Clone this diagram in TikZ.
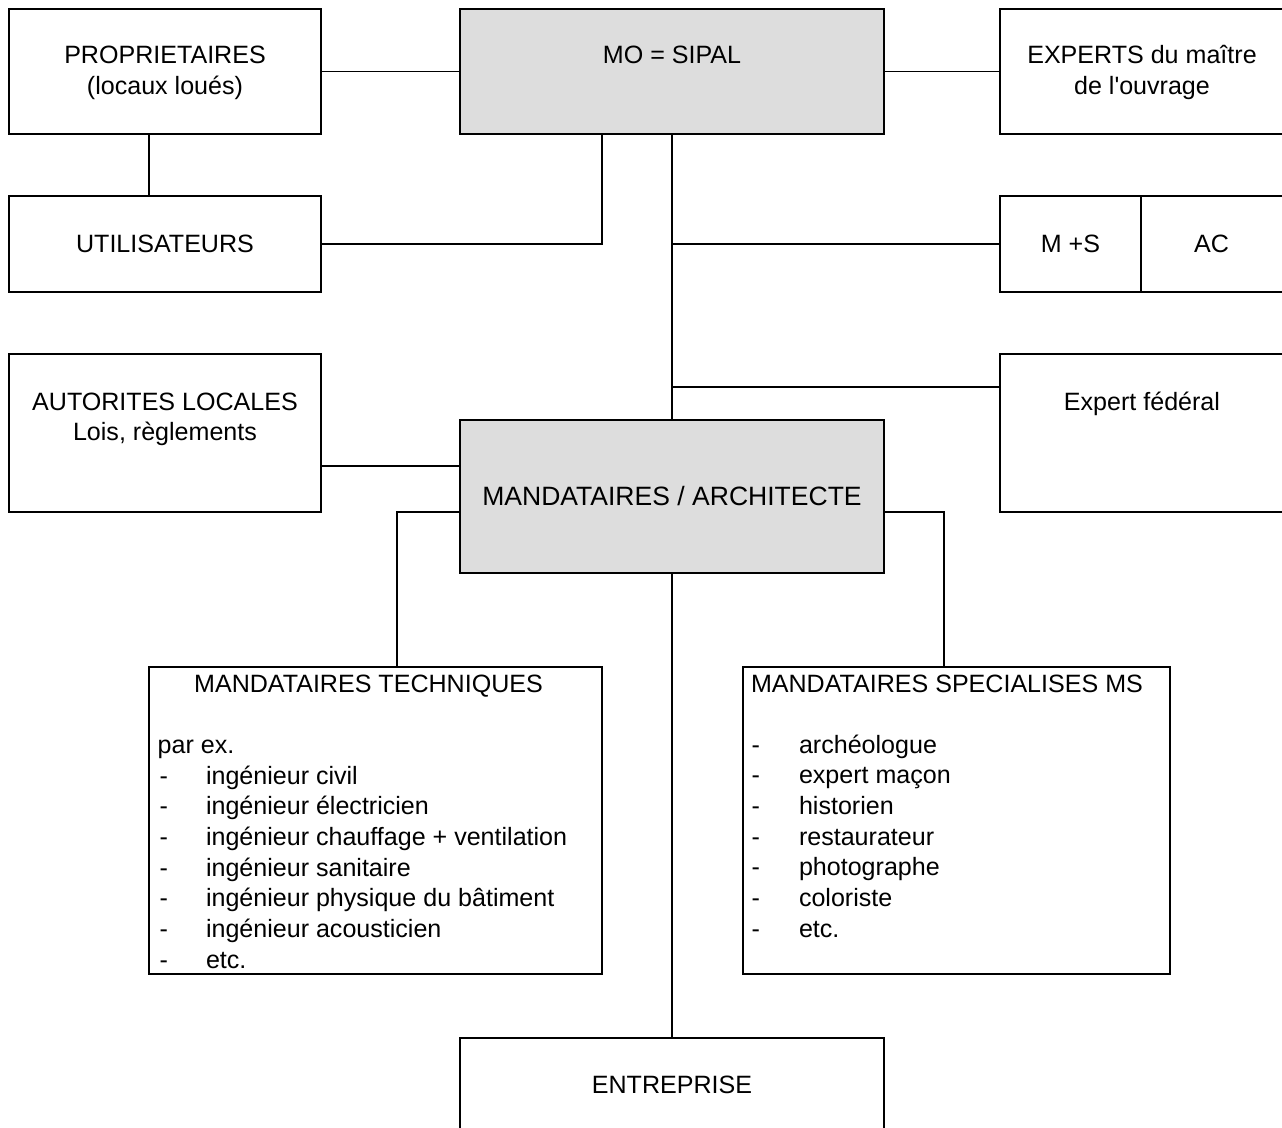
\documentclass[tikz,border=0pt]{standalone}
\usepackage{fontspec}
\setmainfont{Liberation Sans}
\usetikzlibrary{fit,calc}
\definecolor{boxgray}{RGB}{221,221,221}
\begin{document}
\begin{tikzpicture}[x=0.75pt,y=-0.75pt,
  every node/.style={inner sep=0pt, outer sep=0pt},
  box/.style={draw, line width=1.6pt, rectangle, fit={#1}},
  txt/.style={font=\fontsize{18.8pt}{23pt}\selectfont, anchor=base},
  bigtxt/.style={font=\fontsize{19.9pt}{24pt}\selectfont, anchor=base},
  ltxt/.style={txt, anchor=base west},
  link/.style={draw, line width=1.3pt}]
\useasboundingbox (0,0) rectangle (1282,1128);
\clip (0,0) rectangle (1282,1128);

% boxes
\node[box={(9,9) (321,134)}] (prop) {};
\node[box={(460,9) (884,134)}, fill=boxgray] (mo) {};
\node[box={(1000,9) (1290,134)}] (exp) {};
\node[box={(9,196) (321,292)}] (util) {};
\node[box={(1000,196) (1141,292)}] (msL) {};
\node[box={(1141,196) (1290,292)}] (msR) {};
\node[box={(9,354) (321,512)}] (aut) {};
\node[box={(1000,354) (1290,512)}] (fed) {};
\node[box={(460,420) (884,573)}, fill=boxgray] (arch) {};
\node[box={(149,667) (602,974)}] (tech) {};
\node[box={(743,667) (1170,974)}] (spec) {};
\node[box={(460,1038) (884,1140)}] (ent) {};

% texts
\node[txt] (propT1) at (165,63.7) {PROPRIETAIRES};
\node[txt] (propT2) at (165,94.3) {(locaux loués)};
\node[txt] (moT) at (672,63.7) {MO = SIPAL};
\node[txt] (expT1) at (1142,63.7) {EXPERTS du maître};
\node[txt] (expT2) at (1142,94.3) {de l\textquotesingle ouvrage};
\node[txt] (utilT) at (165,252) {UTILISATEURS};
\node[txt] (msLT) at (1070.5,252) {M +S};
\node[txt] (msRT) at (1211.5,252) {AC};
\node[txt] (autT1) at (165,410.7) {AUTORITES LOCALES};
\node[txt] (autT2) at (165,440.7) {Lois, règlements};
\node[txt] (fedT) at (1142,410.7) {Expert fédéral};
\node[bigtxt] (archT) at (672,505.7) {MANDATAIRES / ARCHITECTE};
\node[txt] (entT) at (672,1093.3) {ENTREPRISE};

\node[txt] (techT) at (368.5,692.3) {MANDATAIRES TECHNIQUES};
\node[ltxt] (techP) at (157.7,753.3) {par ex.};
\foreach [count=\i] \t in {ingénieur civil, ingénieur électricien,
  ingénieur chauffage + ventilation, ingénieur sanitaire,
  ingénieur physique du bâtiment, ingénieur acousticien, etc.} {
  \node[ltxt] (techD\i) at (159.7,{784.3+(\i-1)*30.67}) {-};
  \node[ltxt] (techI\i) at (206,{784.3+(\i-1)*30.67}) {\t};
}

\node[ltxt] (specT) at (751,692.3) {MANDATAIRES SPECIALISES MS};
\foreach [count=\i] \t in {archéologue, expert maçon, historien,
  restaurateur, photographe, coloriste, etc.} {
  \node[ltxt] (specD\i) at (751.5,{753.3+(\i-1)*30.67}) {-};
  \node[ltxt] (specI\i) at (799,{753.3+(\i-1)*30.67}) {\t};
}

% connectors
\coordinate (xP) at (149,0);
\coordinate (xU) at (602,0);
\coordinate (yF) at (0,387);
\coordinate (yA) at (0,466);
\coordinate (yM) at (0,512);
\coordinate (xT) at (397,0);
\coordinate (xS) at (944,0);
\draw[link] (prop.east) -- (mo.west);
\draw[link] (mo.east) -- (exp.west);
\draw[link] (prop.south -| xP) -- (util.north -| xP);
\draw[link] (util.east) -| (mo.south -| xU);
\draw[link] (mo.south) -- (arch.north);
\draw[link] (msL.west -| mo.south) -- (msL.west);
\draw[link] (yF -| mo.south) -- (yF -| fed.west);
\draw[link] (yA -| aut.east) -- (yA -| arch.west);
\draw[link] (yM -| arch.west) -| (tech.north -| xT);
\draw[link] (yM -| arch.east) -| (spec.north -| xS);
\draw[link] (arch.south) -- (ent.north);
\end{tikzpicture}
\end{document}
